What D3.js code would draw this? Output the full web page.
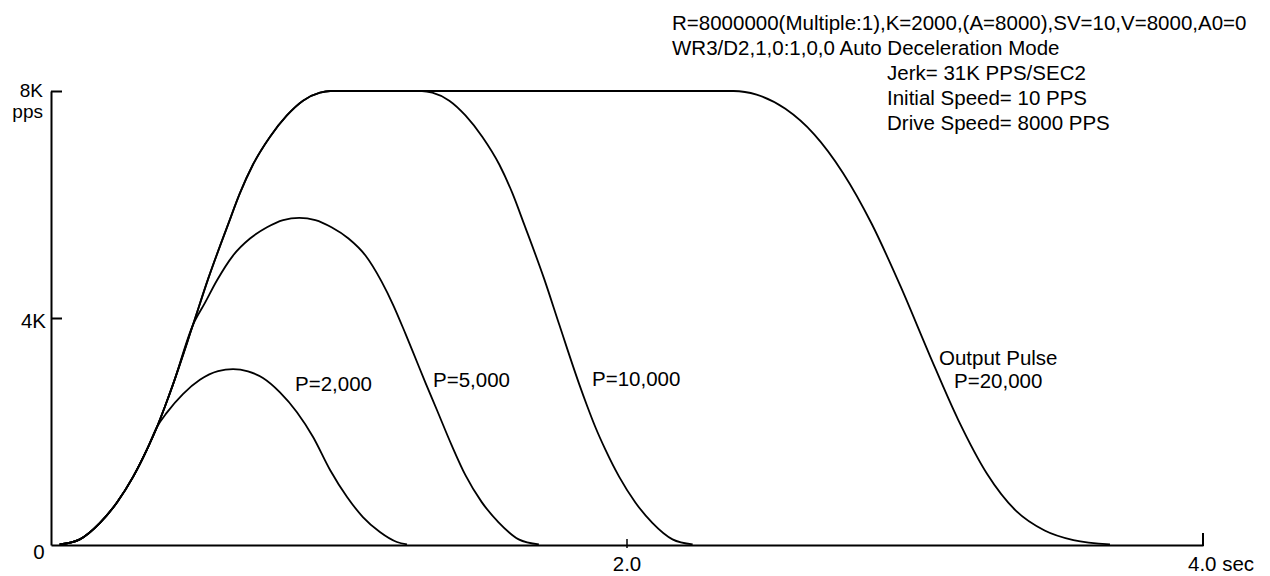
<!DOCTYPE html>
<html>
<head>
<meta charset="utf-8">
<script src="https://cdn.jsdelivr.net/npm/d3@7"></script>
<style>
  body { margin: 0; background: #fff; }
  svg { display: block; }
  text { font-family: "Liberation Sans", Arial, sans-serif; font-size: 20.5px; fill: #000; }
  .unit { font-size: 19px; }
</style>
</head>
<body>
<svg id="chart" width="1270" height="576"></svg>
<script>
// Step 1: data, [seconds, pps]
const riseShared = [[0.03, 10], [0.10, 100], [0.17, 390], [0.229, 750], [0.285, 1200], [0.333, 1680], [0.368, 2079]]
const riseMid = [[0.396, 2445], [0.424, 2835], [0.493, 3880]]
const riseTop = [[0.545, 4680], [0.615, 5650], [0.656, 6200], [0.701, 6700], [0.76, 7190],
    [0.819, 7570], [0.875, 7830], [0.934, 7970], [0.97, 8000]]

const pulse2000 = [[0.403, 2337], [0.458, 2660], [0.517, 2912], [0.58, 3065], [0.632, 3100], [0.684, 3060],
    [0.736, 2943], [0.795, 2690], [0.854, 2340], [0.91, 1903], [0.969, 1322], [1.028, 846], [1.083, 493],
    [1.142, 229], [1.201, 53], [1.236, 10]]

const pulse5000 = [[0.535, 4270], [0.576, 4660], [0.632, 5100], [0.691, 5400], [0.75, 5598], [0.806, 5725],
    [0.862, 5765], [0.918, 5725], [0.974, 5598], [1.033, 5400], [1.092, 5100], [1.148, 4640], [1.189, 4220],
    [1.231, 3720], [1.257, 3400], [1.3, 2860], [1.34, 2379], [1.391, 1760], [1.439, 1230], [1.495, 760],
    [1.554, 400], [1.624, 100], [1.694, 10]]

const pulse10000 = [[1.288, 8000], [1.324, 7970], [1.383, 7830], [1.439, 7570], [1.498, 7190], [1.557, 6700],
    [1.602, 6200], [1.643, 5650], [1.713, 4680], [1.765, 3880], [1.834, 2835], [1.862, 2445], [1.89, 2079],
    [1.925, 1680], [1.973, 1200], [2.029, 750], [2.088, 390], [2.158, 100], [2.228, 10]]

const pulse20000 = [[2.37, 8000], [2.45, 7936], [2.55, 7686], [2.65, 7236], [2.75, 6556], [2.85, 5656],
    [2.95, 4556], [3.05, 3356], [3.15, 2206], [3.25, 1256], [3.35, 606], [3.45, 256], [3.55, 86], [3.677, 10]]

const series = [
    { name: "P=2,000", points: riseShared.concat(pulse2000) },
    { name: "P=5,000", points: riseShared.concat(riseMid, pulse5000) },
    { name: "P=10,000", points: riseShared.concat(riseMid, riseTop, pulse10000) },
    { name: "P=20,000", points: riseShared.concat(riseMid, riseTop, pulse20000) }
]

const headerLines = ["R=8000000(Multiple:1),K=2000,(A=8000),SV=10,V=8000,A0=0",
    "WR3/D2,1,0:1,0,0 Auto Deceleration Mode"]
const infoLines = ["Jerk= 31K PPS/SEC2", "Initial Speed= 10 PPS", "Drive Speed= 8000 PPS"]

// Step 2: scales
const svg = d3.select("#chart")
const xScale = d3.scaleLinear().domain([0, 4]).range([51, 1203])
const yScale = d3.scaleLinear().domain([0, 8000]).range([545, 91])

// Step 3: axes
const yAxis = d3.axisLeft(yScale).tickValues([4000, 8000]).tickSizeInner(-11).tickSizeOuter(0).tickFormat("")
svg.append("g")
    .attr("transform", `translate(${xScale(0)},0)`)
    .call(yAxis)
    .call(g => g.selectAll("path, line").attr("stroke", "#000").attr("stroke-width", 2))

const xAxis = d3.axisBottom(xScale).tickValues([2]).tickSizeInner(0).tickSizeOuter(0).tickFormat("")
svg.append("g")
    .attr("transform", `translate(0,${yScale(0)})`)
    .call(xAxis)
    .call(g => g.selectAll("path").attr("stroke", "#000").attr("stroke-width", 2))

svg.append("line")
    .attr("x1", xScale(2)).attr("x2", xScale(2))
    .attr("y1", yScale(0) - 6).attr("y2", yScale(0) + 3)
    .attr("stroke", "#000").attr("stroke-width", 1.5)
svg.append("line")
    .attr("x1", xScale(4)).attr("x2", xScale(4))
    .attr("y1", yScale(0) - 12).attr("y2", yScale(0) + 1)
    .attr("stroke", "#000").attr("stroke-width", 2)

svg.append("text").attr("class", "unit").attr("x", 43).attr("y", yScale(8000) + 6).attr("text-anchor", "end").text("8K")
svg.append("text").attr("class", "unit").attr("x", 43).attr("y", yScale(8000) + 27).attr("text-anchor", "end").text("pps")
svg.append("text").attr("x", 46).attr("y", yScale(4000) + 10).attr("text-anchor", "end").text("4K")
svg.append("text").attr("x", 39).attr("y", yScale(0) + 14).attr("text-anchor", "middle").text("0")
svg.append("text").attr("x", xScale(2)).attr("y", 571).attr("text-anchor", "middle").text("2.0")
svg.append("text").attr("x", xScale(4) - 15).attr("y", 571).text("4.0 sec")

// Step 4: curves
const line = d3.line()
    .x(d => xScale(d[0]))
    .y(d => yScale(d[1]))
    .curve(d3.curveMonotoneX)

svg.selectAll(".data-line")
    .data(series)
    .join("path")
    .attr("class", "data-line")
    .attr("d", d => line(d.points))
    .attr("fill", "none")
    .attr("stroke", "#000")
    .attr("stroke-width", 1.8)

// Step 5: labels
svg.append("text").attr("x", 295).attr("y", 391).text("P=2,000")
svg.append("text").attr("x", 433).attr("y", 387).text("P=5,000")
svg.append("text").attr("x", 592).attr("y", 386).text("P=10,000")
svg.append("text").attr("x", 939).attr("y", 365).text("Output Pulse")
svg.append("text").attr("x", 954).attr("y", 388).text("P=20,000")

svg.selectAll(".header")
    .data(headerLines)
    .join("text")
    .attr("class", "header")
    .attr("x", 672)
    .attr("y", (d, i) => 30 + i * 25)
    .text(d => d)

svg.selectAll(".info")
    .data(infoLines)
    .join("text")
    .attr("class", "info")
    .attr("x", 887)
    .attr("y", (d, i) => 80 + i * 25)
    .text(d => d)
</script>
</body>
</html>
